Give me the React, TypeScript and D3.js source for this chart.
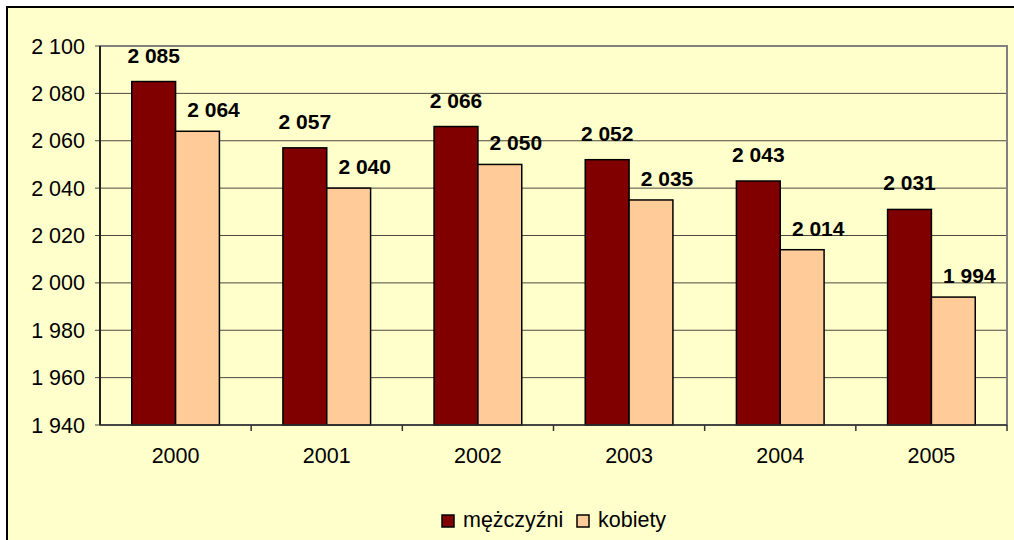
import React from "react";
import * as d3 from "d3";

const years = ["2000", "2001", "2002", "2003", "2004", "2005"];
const men = [2085, 2057, 2066, 2052, 2043, 2031];
const women = [2064, 2040, 2050, 2035, 2014, 1994];
const seriesNames = ["mężczyźni", "kobiety"];
const seriesColors = ["#800000", "#FFCC99"];
const yTicks = [1940, 1960, 1980, 2000, 2020, 2040, 2060, 2080, 2100];

const W = 1014;
const H = 540;
const plot = { left: 100, right: 1007, top: 46, bottom: 425 };
const FONT = "Arial, 'Liberation Sans', sans-serif";

const fmt = (v: number) => {
  const s = String(v);
  return s.length > 3 ? s.slice(0, s.length - 3) + " " + s.slice(-3) : s;
};

export default function App() {
  const x = d3.scaleBand<string>().domain(years).range([plot.left, plot.right]).padding(0);
  const bw = x.bandwidth();
  const groupW = bw * 0.58;
  const inner = d3
    .scaleBand<string>()
    .domain(["0", "1"])
    .range([(bw - groupW) / 2, (bw + groupW) / 2])
    .padding(0);
  const y = d3.scaleLinear().domain([1940, 2100]).range([plot.bottom, plot.top]);
  const data = [men, women];

  return (
    <svg width={W} height={H} style={{ display: "block", position: "absolute", left: 0, top: 0 }}>
      <rect x={0} y={0} width={W} height={H} fill="#FFFFFF" />
      <rect x={7} y={7} width={W + 10} height={H + 10} fill="#FFFFCC" stroke="#000" strokeWidth={2} />
      {/* gridlines */}
      {yTicks.map((t) => (
        <line key={"g" + t} x1={plot.left - 5} x2={plot.right} y1={y(t)} y2={y(t)} stroke="#4a4a40" strokeWidth={1} />
      ))}
      {/* plot border */}
      <rect
        x={plot.left}
        y={plot.top}
        width={plot.right - plot.left}
        height={plot.bottom - plot.top}
        fill="none"
        stroke="#808080"
        strokeWidth={2}
      />
      {/* bars */}
      {data.map((vals, si) =>
        vals.map((v, i) => {
          const bx = (x(years[i]) as number) + (inner(String(si)) as number);
          return (
            <rect
              key={`b${si}-${i}`}
              x={bx}
              y={y(v)}
              width={inner.bandwidth()}
              height={plot.bottom - y(v)}
              fill={seriesColors[si]}
              stroke="#000"
              strokeWidth={1.5}
            />
          );
        })
      )}
      {/* axes */}
      <line x1={plot.left} x2={plot.left} y1={plot.top} y2={plot.bottom} stroke="#000" strokeWidth={1.5} />
      <line x1={plot.left} x2={plot.right} y1={plot.bottom} y2={plot.bottom} stroke="#333" strokeWidth={1.5} />
      {years.map((yr) => (
        <line
          key={"ct" + yr}
          x1={(x(yr) as number) + bw}
          x2={(x(yr) as number) + bw}
          y1={plot.bottom}
          y2={plot.bottom + 6}
          stroke="#333"
          strokeWidth={1.5}
        />
      ))}
      {yTicks.map((t) => (
        <text
          key={"yt" + t}
          x={85}
          y={y(t)}
          dy="0.35em"
          textAnchor="end"
          fontFamily={FONT}
          fontSize={21.5}
          fill="#000"
        >
          {fmt(t)}
        </text>
      ))}
      {years.map((yr) => (
        <text
          key={"xl" + yr}
          x={(x(yr) as number) + bw / 2}
          y={463}
          textAnchor="middle"
          fontFamily={FONT}
          fontSize={21.5}
          fill="#000"
        >
          {yr}
        </text>
      ))}
      {/* data labels */}
      {data.map((vals, si) =>
        vals.map((v, i) => {
          const cx = (x(years[i]) as number) + (inner(String(si)) as number) + inner.bandwidth() / 2;
          const dx = si === 0 ? 0 : 16;
          const dy = si === 0 ? -19 : -14;
          return (
            <text
              key={`l${si}-${i}`}
              x={cx + dx}
              y={y(v) + dy}
              textAnchor="middle"
              fontFamily={FONT}
              fontSize={21}
              fontWeight="bold"
              fill="#000"
            >
              {fmt(v)}
            </text>
          );
        })
      )}
      {/* legend */}
      {seriesNames.map((name, si) => {
        const lx = si === 0 ? 442 : 577;
        return (
          <g key={"lg" + si}>
            <rect x={lx} y={515} width={12} height={12} fill={seriesColors[si]} stroke="#000" strokeWidth={1.5} />
            <text x={lx + 21} y={527} fontFamily={FONT} fontSize={21.5} fill="#000">
              {name}
            </text>
          </g>
        );
      })}
    </svg>
  );
}
